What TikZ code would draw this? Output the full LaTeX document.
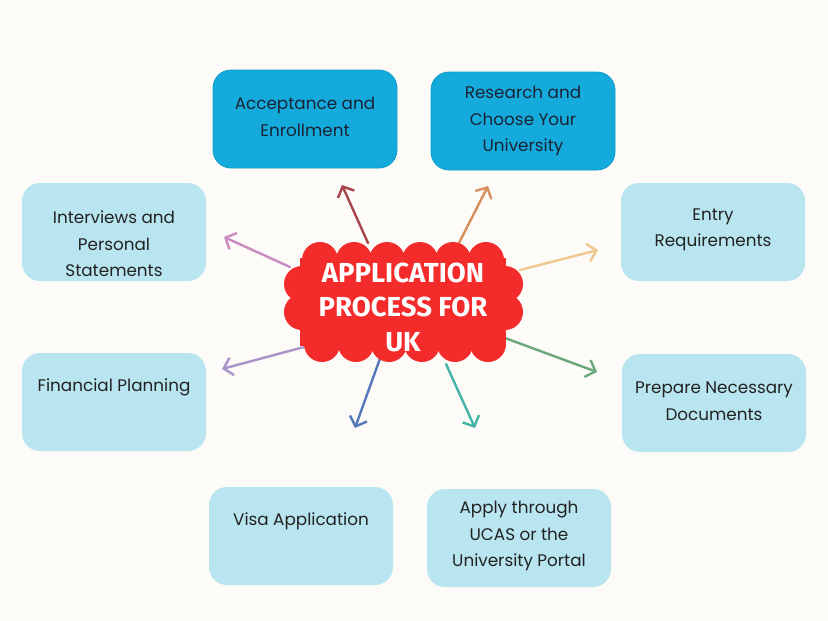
\documentclass[tikz,border=0pt]{standalone}
\usepackage{fontspec}
\setmainfont{Poppins}
\newfontfamily\titlefont{Fira Sans}
\usetikzlibrary{arrows.meta}
\definecolor{bg}{HTML}{FCFBF7}
\definecolor{topfill}{HTML}{14ABDC}
\definecolor{topedge}{HTML}{0E9BC9}
\definecolor{lightfill}{HTML}{B9E5F0}
\definecolor{cloudred}{HTML}{F42B2B}
\definecolor{darktext}{HTML}{1A2233}
\definecolor{boxtext}{HTML}{222222}
\definecolor{cA}{HTML}{A8454A}
\definecolor{cB}{HTML}{D98E5F}
\definecolor{cC}{HTML}{C98BC0}
\definecolor{cD}{HTML}{EFC88F}
\definecolor{cE}{HTML}{A993C8}
\definecolor{cF}{HTML}{6AA87A}
\definecolor{cG}{HTML}{5577BB}
\definecolor{cH}{HTML}{45B3A8}
\tikzset{
  basebox/.style={rounded corners=18pt, minimum width=184pt, minimum height=98pt, inner sep=0pt},
  topbox/.style={basebox, fill=topfill, draw=topedge, line width=0.8pt},
  lightbox/.style={basebox, fill=lightfill},
  boxlabel/.style={align=center, inner sep=0pt, text=boxtext,
    font=\fontsize{16.8}{26.5}\selectfont},
  toplabel/.style={boxlabel, text=darktext},
  spoke/.style={line width=2.4pt, line cap=round,
    -{Straight Barb[length=8.5pt,width=18pt,line width=2.4pt]}},
  blob/.style={fill=cloudred}
}
\begin{document}
\begin{tikzpicture}[x=1pt,y=-1pt]
\fill[bg] (0,0) rectangle (828,621);
\useasboundingbox (0,0) rectangle (828,621);

% boxes
\node[topbox]   (accept)    at (305,119) {};
\node[topbox]   (research)  at (523,121) {};
\node[lightbox] (interview) at (114,232) {};
\node[lightbox] (entry)     at (713,232) {};
\node[lightbox] (finance)   at (114,402) {};
\node[lightbox] (prepare)   at (714,403) {};
\node[lightbox] (visa)      at (301,536) {};
\node[lightbox] (apply)     at (519,538) {};

% box texts
\node[toplabel] (acceptT)    at (305,117) {Acceptance and\\Enrollment};
\node[toplabel] (researchT)  at (523,121) {Research and\\Choose Your\\University};
\node[boxlabel] (interviewT) at (114,244) {Interviews and\\Personal\\Statements};
\node[boxlabel] (entryT)     at (713,230) {Entry\\Requirements};
\node[boxlabel] (financeT)   at (114,387) {Financial Planning};
\node[boxlabel] (prepareT)   at (714,401) {Prepare Necessary\\Documents};
\node[boxlabel] (visaT)      at (301,521) {Visa Application};
\node[boxlabel] (applyT)     at (519,536) {Apply through\\UCAS or the\\University Portal};

% spoke coordinates
\coordinate (sA) at (368,243); \coordinate (eA) at (342,185);
\coordinate (sB) at (459,243); \coordinate (eB) at (488,186);
\coordinate (sC) at (290,267); \coordinate (eC) at (224,237);
\coordinate (sD) at (520,270); \coordinate (eD) at (598,250);
\coordinate (sE) at (304,347); \coordinate (eE) at (222,369);
\coordinate (sF) at (505,338); \coordinate (eF) at (597,372);
\coordinate (sG) at (382,353); \coordinate (eG) at (355,428);
\coordinate (sH) at (446,364); \coordinate (eH) at (475,428);

\draw[spoke, cA] (sA) -- (eA);
\draw[spoke, cB] (sB) -- (eB);
\draw[spoke, cC] (sC) -- (eC);
\draw[spoke, cD] (sD) -- (eD);
\draw[spoke, cE] (sE) -- (eE);
\draw[spoke, cF] (sF) -- (eF);
\draw[spoke, cG] (sG) -- (eG);
\draw[spoke, cH] (sH) -- (eH);

% cloud
\fill[blob] (300,258) rectangle (506,346);
\foreach \x in {320,354,387,420,453,486} {\fill[blob] (\x,260) circle (18);}
\foreach \x in {322,356,389,422,455,488} {\fill[blob] (\x,344) circle (18);}
\foreach \y in {284,312} {\fill[blob] (302,\y) circle (18); \fill[blob] (505,\y) circle (18);}
\node[text=white, align=center, font=\titlefont\bfseries\fontsize{27.5}{34.5}\selectfont]
  (hub) at (403,307) {APPLICATION\\PROCESS FOR\\UK};
\end{tikzpicture}
\end{document}
